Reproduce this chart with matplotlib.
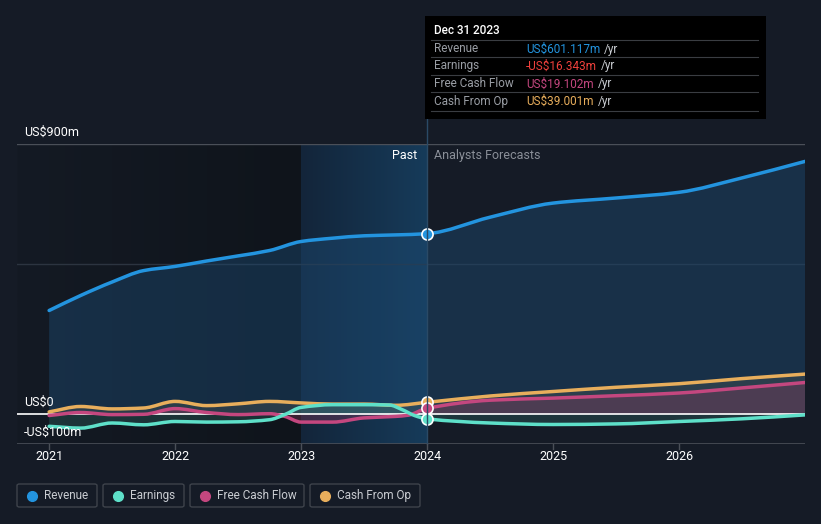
import matplotlib
matplotlib.use("Agg")
import matplotlib.pyplot as plt
import numpy as np
from matplotlib.patches import FancyBboxPatch, Rectangle, PathPatch
from matplotlib.path import Path
from matplotlib.lines import Line2D
from matplotlib.colors import LinearSegmentedColormap

plt.rcParams['font.family'] = ['Roboto', 'DejaVu Sans']

# ---------------- data (US$ m) ----------------
rev_years = [2021.0, 2021.25, 2021.5, 2021.75, 2022.0, 2022.25, 2022.5, 2022.75,
             2023.0, 2023.25, 2023.5, 2023.75, 2024.0,
             2024.5, 2025.0, 2025.5, 2026.0, 2026.5, 2027.0]
rev_vals = [345, 395, 440, 478, 492, 510, 527, 545,
            575, 586, 594, 597, 601.117,
            656, 703, 720, 739, 787, 842]

earn_years = [2021.0, 2021.25, 2021.5, 2021.75, 2022.0, 2022.25, 2022.5, 2022.75,
              2022.87, 2023.0, 2023.25, 2023.5, 2023.7, 2023.8, 2023.9, 2024.0,
              2024.5, 2025.0, 2025.5, 2026.0, 2026.5, 2027.0]
earn_vals = [-41, -47, -30, -36, -25, -27, -26, -19,
             -2, 22, 31, 31, 30, 15, -5, -16.343,
             -30, -35, -33, -25, -16, -3]

fcf_years = [2021.0, 2021.25, 2021.5, 2021.75, 2022.0, 2022.25, 2022.5, 2022.75,
             2022.87, 2023.0, 2023.25, 2023.5, 2023.75, 2023.85, 2024.0,
             2024.5, 2025.0, 2025.5, 2026.0, 2026.5, 2027.0]
fcf_vals = [-5, 5, -2, -1, 18, 5, -2, 1,
            -8, -27, -27, -13, -8, -4, 19.102,
            46, 53, 61, 70, 87, 105]

cfo_years = [2021.0, 2021.25, 2021.5, 2021.75, 2022.0, 2022.25, 2022.5, 2022.75,
             2023.0, 2023.25, 2023.5, 2023.75, 2024.0,
             2024.5, 2025.0, 2025.5, 2026.0, 2026.5, 2027.0]
cfo_vals = [7, 25, 17, 20, 42, 28, 34, 42,
            37, 33, 33, 29, 39.001,
            60, 75, 89, 101, 118, 133]

now_year = 2024.0
now_vals = {"rev": 601.117, "earn": -16.343, "fcf": 19.102, "cfo": 39.001}

tick_years = [2021, 2022, 2023, 2024, 2025, 2026]
tick_labels = ["2021", "2022", "2023", "2024", "2025", "2026"]
series_names = ["Revenue", "Earnings", "Free Cash Flow", "Cash From Op"]
tooltip_values = ["US$601.117m", "-US$16.343m", "US$19.102m", "US$39.001m"]

# ---------------- style ----------------
BG = "#151b26"
C_REV = "#2394df"
C_EARN = "#5ee0c9"
C_FCF = "#c4477f"
C_CFO = "#e8ae5c"
colors = [C_REV, C_EARN, C_FCF, C_CFO]

W, H = 821, 524
fig = plt.figure(figsize=(W / 100, H / 100), dpi=100, facecolor=BG)

x0, x1 = 17, 805
y_top, y_bot = 144, 444
ax = fig.add_axes([x0 / W, 1 - y_bot / H, (x1 - x0) / W, (y_bot - y_top) / H])
ax.set_facecolor(BG)
xmin, xmax = 2020.745, 2027.0
for s in ax.spines.values():
    s.set_visible(False)
ax.set_yticks([])
ax.set_xticks([])

grad = np.linspace(0, 1, 256).reshape(1, -1)
cm_dark = LinearSegmentedColormap.from_list("d", ["#141a24", "#0f141b"])
ax.imshow(grad, extent=[xmin, 2023.0, -100, 900], aspect='auto', cmap=cm_dark, zorder=0)
cm_hl = LinearSegmentedColormap.from_list("h", ["#13253a", "#163b5a"])
ax.imshow(grad, extent=[2023.0, now_year, -100, 900], aspect='auto', cmap=cm_hl, zorder=0)
ax.set_xlim(xmin, xmax)
ax.set_ylim(-100, 900)

ax.axhline(900, color="#4a4f58", lw=1, zorder=1)
ax.axhline(500, color="#2c3440", lw=1, zorder=1)
ax.axhline(-100, color="#4a4f58", lw=1.2, zorder=1)


def smooth_path(xs, ys):
    """Cubic Bezier path through the data points (smooth rendering)."""
    xs = np.asarray(xs, float)
    ys = np.asarray(ys, float)
    n = len(xs)
    m = np.zeros(n)
    for i in range(n):
        if i == 0:
            m[i] = (ys[1] - ys[0]) / (xs[1] - xs[0])
        elif i == n - 1:
            m[i] = (ys[-1] - ys[-2]) / (xs[-1] - xs[-2])
        else:
            d0 = (ys[i] - ys[i - 1]) / (xs[i] - xs[i - 1])
            d1 = (ys[i + 1] - ys[i]) / (xs[i + 1] - xs[i])
            if d0 * d1 <= 0:
                m[i] = 0.0
            else:
                m[i] = 2.0 / (1.0 / d0 + 1.0 / d1)
    verts = [(xs[0], ys[0])]
    codes = [Path.MOVETO]
    for i in range(n - 1):
        h = xs[i + 1] - xs[i]
        verts += [(xs[i] + h / 3, ys[i] + m[i] * h / 3),
                  (xs[i + 1] - h / 3, ys[i + 1] - m[i + 1] * h / 3),
                  (xs[i + 1], ys[i + 1])]
        codes += [Path.CURVE4] * 3
    return verts, codes


def draw_series(xs, ys, color, fillcolor, falpha, z):
    verts, codes = smooth_path(xs, ys)
    fverts = verts + [(xs[-1], 0), (xs[0], 0), (xs[0], ys[0])]
    fcodes = codes + [Path.LINETO, Path.LINETO, Path.CLOSEPOLY]
    ax.add_patch(PathPatch(Path(fverts, fcodes), facecolor=fillcolor, alpha=falpha,
                           lw=0, zorder=z))
    ax.add_patch(PathPatch(Path(verts, codes), facecolor="none", edgecolor=color,
                           lw=2.5, zorder=5, capstyle='round', joinstyle='round'))


draw_series(rev_years, rev_vals, C_REV, "#1c4a72", 0.45, 2)
draw_series(cfo_years, cfo_vals, C_CFO, "#6a6a5a", 0.25, 3)
draw_series(fcf_years, fcf_vals, C_FCF, "#8a3a5e", 0.35, 3)
draw_series(earn_years, earn_vals, C_EARN, "#3c8a80", 0.25, 3)

ax.axhline(0, color="white", lw=1.2, zorder=4)

for key, c in [("rev", C_REV), ("cfo", C_CFO), ("fcf", C_FCF), ("earn", C_EARN)]:
    ax.plot([now_year], [now_vals[key]], 'o', ms=8, mfc=c, mec="white", mew=1.2, zorder=7)

for ty, tl in zip(tick_years, tick_labels):
    xf = x0 + (ty - xmin) / (xmax - xmin) * (x1 - x0)
    fig.add_artist(Line2D([xf / W, xf / W], [1 - 444 / H, 1 - 449 / H], color="#4a4f58", lw=1))
    fig.text(xf / W, 1 - 457 / H, tl, color="white", fontsize=9, ha="center", va="center")

fig.text(24 / W, 1 - 132 / H, "US$900m", color="white", fontsize=9, ha="left", va="center")
fig.text(24 / W, 1 - 402 / H, "US$0", color="white", fontsize=9, ha="left", va="center")
fig.text(24 / W, 1 - 432 / H, "-US$100m", color="white", fontsize=9, ha="left", va="center")

fig.text(417 / W, 1 - 156 / H, "Past", color="white", fontsize=9, ha="right", va="center")
fig.text(434 / W, 1 - 156 / H, "Analysts Forecasts", color="#8a8f98", fontsize=9, ha="left", va="center")

xv = x0 + (now_year - xmin) / (xmax - xmin) * (x1 - x0)
fig.add_artist(Line2D([xv / W, xv / W], [1 - 444 / H, 1 - 119 / H], color="#2a4a66", lw=1, zorder=1))

tb = Rectangle((425 / W, 1 - 119 / H), (766 - 425) / W, (119 - 16) / H,
               transform=fig.transFigure, facecolor="black", edgecolor="none", zorder=10)
fig.add_artist(tb)
fig.text(434 / W, 1 - 31 / H, "Dec 31 2023", color="white", fontsize=8.5, ha="left", va="center",
         fontweight="medium", zorder=11)
rows_y = [49, 66, 84, 101]
fig.canvas.draw()
for i, (nm, val, c) in enumerate(zip(series_names, tooltip_values, colors)):
    yy = rows_y[i]
    fig.add_artist(Line2D([431 / W, 758 / W], [1 - (yy - 9) / H, 1 - (yy - 9) / H],
                          color="#3a3d42", lw=0.8, zorder=11))
    fig.text(434 / W, 1 - yy / H, nm, color="#9a9ea5", fontsize=8.5, ha="left", va="center", zorder=11)
    if c == C_EARN:
        c = "#f0413c"
    t = fig.text(526 / W, 1 - yy / H, val, color=c, fontsize=8.5, ha="left", va="center", zorder=11)
    bb = t.get_window_extent(renderer=fig.canvas.get_renderer())
    fig.text((bb.x1 + 4) / W, 1 - yy / H, "/yr", color="#c9ccd1", fontsize=8.5, ha="left",
             va="center", zorder=11)
fig.add_artist(Line2D([431 / W, 758 / W], [1 - 111 / H, 1 - 111 / H], color="#3a3d42", lw=0.8, zorder=11))

boxes = [(17, 97), (103, 184), (190, 304), (310, 420)]
for (bx0, bx1), nm, c in zip(boxes, series_names, colors):
    p = FancyBboxPatch((bx0 / W, 1 - 507 / H), (bx1 - bx0) / W, (507 - 484) / H,
                       boxstyle="round,pad=0,rounding_size=0.003", transform=fig.transFigure,
                       facecolor="none", edgecolor="#3e434b", lw=1)
    fig.add_artist(p)
    fig.add_artist(Line2D([(bx0 + 15) / W], [1 - 495.5 / H], marker='o', ms=7, color=c, mec=c,
                          transform=fig.transFigure))
    fig.text((bx0 + 27) / W, 1 - 495.5 / H, nm, color="#c9ccd1", fontsize=8.5, ha="left", va="center")

fig.savefig("out.png", dpi=100, facecolor=BG)
